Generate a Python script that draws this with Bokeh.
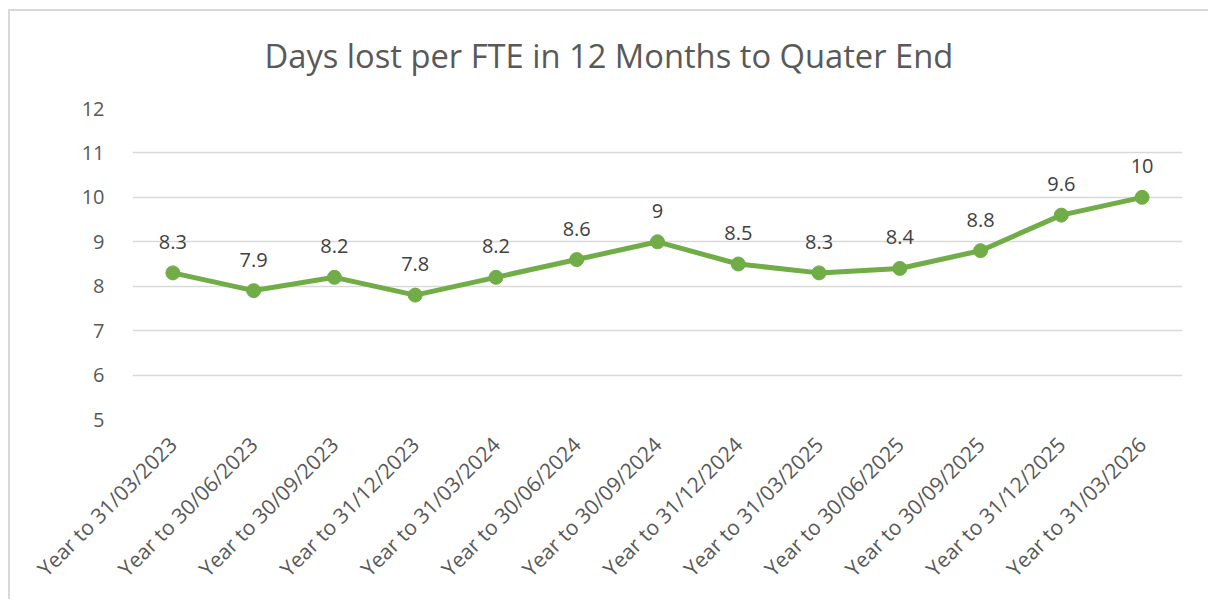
from bokeh.plotting import figure
from bokeh.models import ColumnDataSource, FixedTicker, Range1d
from bokeh.core.properties import value
from bokeh.embed import file_html
from bokeh.resources import INLINE
import math

title_text = "Days lost per FTE in 12 Months to Quater End"
categories = ["Year to 31/03/2023", "Year to 30/06/2023", "Year to 30/09/2023",
              "Year to 31/12/2023", "Year to 31/03/2024", "Year to 30/06/2024",
              "Year to 30/09/2024", "Year to 31/12/2024", "Year to 31/03/2025",
              "Year to 30/06/2025", "Year to 30/09/2025", "Year to 31/12/2025",
              "Year to 31/03/2026"]
days_lost = [8.3, 7.9, 8.2, 7.8, 8.2, 8.6, 9, 8.5, 8.3, 8.4, 8.8, 9.6, 10]
label_text = ["8.3", "7.9", "8.2", "7.8", "8.2", "8.6", "9", "8.5", "8.3", "8.4", "8.8", "9.6", "10"]
y_ticks = [5, 6, 7, 8, 9, 10, 11, 12]

src = ColumnDataSource(dict(x=categories, y=days_lost, t=label_text))

FONT = "Open Sans"
p = figure(x_range=categories, y_range=Range1d(5, 12), width=1200, height=599,
           output_backend="svg", toolbar_location=None, title=title_text,
           min_border_left=124, min_border_right=26, min_border_top=60, min_border_bottom=180)
p.styles = {
    "margin-left": "8px",
    "background-image": "linear-gradient(#d9d9d9, #d9d9d9), linear-gradient(#d9d9d9, #d9d9d9)",
    "background-position": "0px 9px, 0px 9px",
    "background-size": "100% 2px, 2px 100%",
    "background-repeat": "no-repeat",
}

p.title.align = "left"
p.title.offset = 132
p.title.text_font = FONT
p.title.text_font_style = "normal"
p.title.text_font_size = "32.7px"
p.title.text_color = "#595959"
p.title.standoff = 61

p.outline_line_color = None
p.background_fill_color = "white"
p.border_fill_color = None

p.xgrid.grid_line_color = None
p.ygrid.grid_line_color = "#d9d9d9"
p.ygrid.grid_line_width = 1.5
p.yaxis.ticker = FixedTicker(ticks=y_ticks)

for ax in (p.xaxis, p.yaxis):
    ax.axis_line_color = None
    ax.major_tick_line_color = None
    ax.minor_tick_line_color = None
    ax.major_label_text_font = FONT
    ax.major_label_text_color = "#595959"

p.yaxis.major_label_text_font_size = "20px"
p.xaxis.major_label_text_font_size = "21px"
p.yaxis.major_label_standoff = 22
p.xaxis.major_label_orientation = math.pi / 4
p.xaxis.major_label_standoff = 15

p.line("x", "y", source=src, line_color="#70AD47", line_width=5)
p.scatter("x", "y", source=src, size=14, fill_color="#70AD47", line_color="#70AD47")
p.text("x", "y", text="t", source=src, text_font=value(FONT), text_font_size="20px",
       text_color="#404040", text_align="center", text_baseline="middle", y_offset=-31)

open("out.html", "w").write(file_html(p, INLINE))
